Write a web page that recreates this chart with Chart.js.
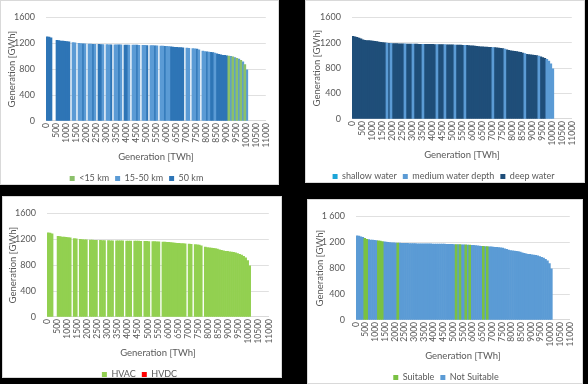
<!DOCTYPE html>
<html lang="en">
<head>
  <meta charset="UTF-8" />
  <title>Generation duration curves</title>
  <script src="https://cdn.jsdelivr.net/npm/chart.js"></script>
  <style>
    body {
      margin: 0;
      background: #000;
      width: 588px;
      height: 384px;
      position: relative;
      overflow: hidden;
      font-family: Lato, 'Open Sans', sans-serif;
    }
    .panel {
      position: absolute;
      background: #fff;
      box-sizing: border-box;
      border: 1px solid #d9d9d9;
    }
  </style>
</head>
<body>
  <div class="panel" style="left:0px;top:0px;width:279px;height:185px"><canvas id="c1"></canvas></div>
  <div class="panel" style="left:305px;top:0px;width:280px;height:183px"><canvas id="c2"></canvas></div>
  <div class="panel" style="left:2px;top:196px;width:280px;height:182px"><canvas id="c3"></canvas></div>
  <div class="panel" style="left:307px;top:199px;width:276px;height:185px"><canvas id="c4"></canvas></div>

  <script>
    // bins of 100 TWh cumulative generation, 0 .. 10100
    const binWidth = 100;
    const curveY = [
      1300, 1295, 1285, 1275, 1262, 1245, 1240, 1236, 1233, 1230,
      1228, 1224, 1218, 1212, 1207, 1203, 1199, 1195, 1192, 1190,
      1188, 1187, 1186, 1185, 1184, 1183, 1182, 1181, 1180, 1180,
      1179, 1178, 1178, 1177, 1177, 1176, 1176, 1175, 1175, 1174,
      1174, 1173, 1173, 1172, 1172, 1171, 1170, 1169, 1168, 1167,
      1166, 1165, 1164, 1163, 1162, 1161, 1160, 1158, 1156, 1154,
      1152, 1150, 1146, 1142, 1138, 1136, 1134, 1132, 1130, 1128,
      1126, 1124, 1121, 1118, 1114, 1110, 1100, 1090, 1080, 1072,
      1068, 1064, 1060, 1055, 1048, 1038, 1028, 1020, 1015, 1012,
      1008, 1004, 998, 990, 980, 968, 955, 938, 912, 870,
      790
    ];

    // category runs per panel: [category, number of bins], null = no data
    const distRuns = [
      ['far', 3], [null, 2], ['far', 7], [null, 1], ['mid', 2], [null, 1], ['mid', 2], ['far', 1],
      ['mid', 1], [null, 1], ['mid', 2], ['far', 1], ['mid', 1], [null, 1], ['far', 2], ['mid', 1],
      [null, 1], ['mid', 2], ['far', 1], [null, 1], ['mid', 2], ['far', 1], ['mid', 1], [null, 1],
      ['far', 2], ['mid', 1], [null, 1], ['mid', 2], ['far', 1], ['mid', 1], [null, 1], ['mid', 2],
      ['far', 1], [null, 1], ['mid', 2], ['far', 1], ['mid', 1], [null, 1], ['mid', 2], ['far', 1],
      ['mid', 2], ['far', 7], [null, 1], ['mid', 2], [null, 1], ['mid', 2], ['far', 1], ['mid', 1],
      [null, 1], ['mid', 2], ['far', 1], ['mid', 1], ['far', 2], ['mid', 1], ['far', 6],
      ['near', 1], ['mid', 1], ['near', 1], ['mid', 1], ['near', 1], ['mid', 1], ['near', 1],
      ['mid', 1], ['near', 1], ['mid', 1]
    ];
    const depthRuns = [
      ['deep', 17], ['medium', 1], ['deep', 1], ['medium', 1], ['deep', 6], ['medium', 1], ['deep', 3],
      ['medium', 1], ['deep', 4], ['medium', 1], ['deep', 6], ['medium', 1], ['deep', 3], ['medium', 1],
      ['deep', 4], ['medium', 1], ['deep', 4], ['medium', 1], ['deep', 13], ['medium', 1], ['deep', 5],
      ['medium', 1], ['deep', 9], ['medium', 1], ['deep', 6], ['medium', 1], ['deep', 3], ['medium', 4]
    ];
    const transRuns = [
      ['ac', 3], [null, 2], ['ac', 7], [null, 1], ['ac', 2], [null, 1], ['ac', 4], [null, 1],
      ['ac', 4], [null, 1], ['ac', 3], [null, 1], ['ac', 3], [null, 1], ['ac', 4], [null, 1],
      ['ac', 3], [null, 1], ['ac', 4], [null, 1], ['ac', 3], [null, 1], ['ac', 4], [null, 1],
      ['ac', 12], [null, 1], ['ac', 2], [null, 1], ['ac', 4], [null, 1], ['ac', 23]
    ];
    const suitRuns = [
      ['no', 4], ['yes', 2], ['no', 5], ['yes', 3], ['no', 7], ['yes', 1], ['no', 29],
      ['yes', 1], ['no', 1], ['yes', 1], ['no', 2], ['yes', 1], ['no', 1], ['yes', 1],
      ['no', 6], ['yes', 1], ['no', 1], ['yes', 1], ['no', 33]
    ];

    const distCats = [['near', '<15 km', '#8bc06a'], ['mid', '15-50 km', '#5b9bd5'], ['far', '50 km', '#2e75b6']];
    const depthCats = [['shallow', 'shallow water', '#1ca5d8'], ['medium', 'medium water depth', '#5b9bd5'], ['deep', 'deep water', '#1f4e79']];
    const transCats = [['ac', 'HVAC', '#92d050'], ['dc', 'HVDC', '#ff0000']];
    const suitCats = [['yes', 'Suitable', '#7ac143'], ['no', 'Not Suitable', '#5b9bd5']];

    const xTicksMax = 11000;
    const xTickStep = 500;
    const yTicksMax = 1600;
    const yTickStep = 200;

    const grey = '#595959';
    Chart.defaults.font.family = "Lato, 'Open Sans', sans-serif";
    Chart.defaults.font.size = 9;
    Chart.defaults.color = grey;

    function expand(runs) {
      const out = [];
      runs.forEach(([cat, n]) => { for (let k = 0; k < n; k++) out.push(cat); });
      return out;
    }

    function spaced(v) {
      return v >= 1000 ? String(v).replace(/(\d)(\d{3})$/, '$1 $2') : String(v);
    }

    function makeChart(id, runs, cats, thousandSep, pad, yWidth) {
      const binCats = expand(runs);
      const datasets = cats.map(([key, label, color]) => ({
        label: label,
        backgroundColor: color,
        borderWidth: 0,
        grouped: false,
        barPercentage: 1,
        categoryPercentage: 1,
        data: curveY
          .map((y, i) => ({ x: i * binWidth + binWidth / 2, y: y, c: binCats[i] }))
          .filter(p => p.c === key)
      }));

      return new Chart(document.getElementById(id), {
        type: 'bar',
        data: { datasets: datasets },
        options: {
          responsive: true,
          maintainAspectRatio: false,
          animation: false,
          layout: { padding: pad },
          plugins: {
            tooltip: { enabled: false },
            legend: {
              position: 'bottom',
              labels: { boxWidth: 5, boxHeight: 5, padding: 6, font: { size: 9 } }
            }
          },
          scales: {
            x: {
              type: 'linear',
              min: 0,
              max: xTicksMax,
              offset: false,
              grid: { display: false, drawTicks: false },
              border: { display: true, color: '#d9d9d9' },
              ticks: {
                stepSize: xTickStep,
                autoSkip: false,
                minRotation: 90,
                maxRotation: 90,
                padding: 2,
                font: { size: 8.5 },
                callback: v => String(v)
              },
              title: { display: true, text: 'Generation [TWh]', padding: { top: 2, bottom: 5 }, font: { size: 9.5 } }
            },
            y: {
              min: 0,
              max: yTicksMax,
              grid: { color: '#e0e0e0', drawTicks: false },
              border: { display: false },
              afterFit: scale => { scale.width = yWidth; },
              ticks: {
                stepSize: yTickStep,
                padding: 11,
                callback: v => thousandSep ? spaced(v) : String(v)
              },
              title: { display: true, text: 'Generation [GWh]', padding: { top: 4, bottom: 0 }, font: { size: 9.5 } }
            }
          }
        }
      });
    }

    makeChart('c1', distRuns, distCats, false, { top: 4, right: 7, left: 1, bottom: -9 }, 44);
    makeChart('c2', depthRuns, depthCats, false, { top: 1, right: 4, left: 1, bottom: -9 }, 45);
    makeChart('c3', transRuns, transCats, false, { top: 5, right: 5, left: 0, bottom: -12 }, 44);
    makeChart('c4', suitRuns, suitCats, true, { top: 3, right: 0, left: 2, bottom: -9 }, 46);
  </script>
</body>
</html>
